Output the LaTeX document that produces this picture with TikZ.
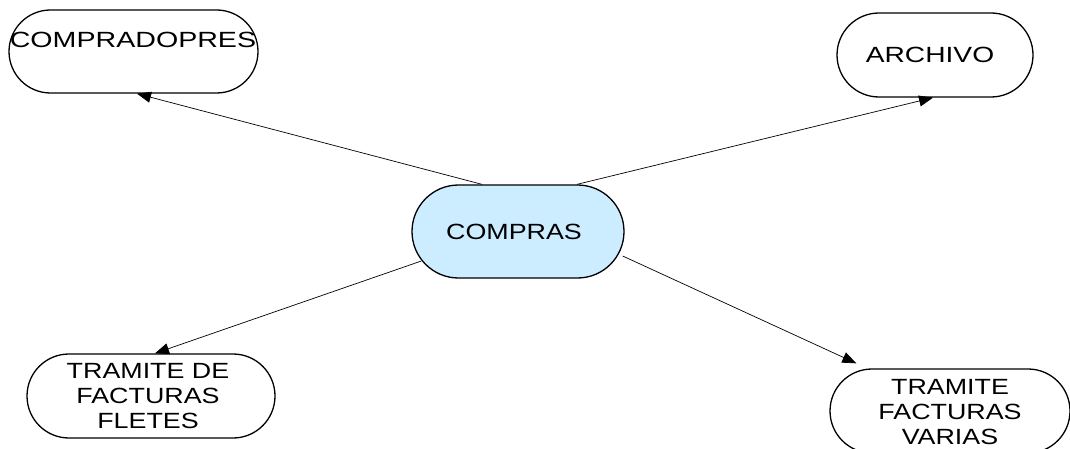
\documentclass[tikz,border=0pt]{standalone}
\usepackage{fontspec}
\newfontfamily\wf{Liberation Sans}[FakeStretch=1.22]
\newfontfamily\wfb{Liberation Sans}[FakeStretch=1.30]
\newfontfamily\wfc{Liberation Sans}[FakeStretch=1.28]
\usetikzlibrary{arrows.meta,calc}
\definecolor{lightblue}{RGB}{204,236,255}
\begin{document}
\begin{tikzpicture}[x=1pt,y=-1pt,
  pill/.style={draw=black,line width=1.3pt,rounded corners=#1,inner sep=0pt},
  lbl/.style={font=\wf\fontsize{22}{25}\selectfont,align=center,inner sep=0pt},
  conn/.style={line width=0.7pt,-{Triangle[length=14pt,width=11pt]}}]
\clip (0,0) rectangle (1070,449);
\fill[white] (0,0) rectangle (1070,449);
% nodes
\node[pill=41.5pt,minimum width=249pt,minimum height=83pt] (cp) at (133.5,51.5) {};
\node[lbl,font=\wfb\fontsize{22}{25}\selectfont] (cpt) at (133,40) {COMPRADOPRES};
\node[pill=42pt,minimum width=196pt,minimum height=84pt] (ar) at (935,55) {};
\node[lbl,font=\wfc\fontsize{22}{25}\selectfont] (art) at (930,55) {ARCHIVO};
\node[pill=46.5pt,minimum width=212pt,minimum height=93pt,fill=lightblue] (co) at (518,231.5) {};
\node[lbl] (cot) at (514,232) {COMPRAS};
\node[pill=42pt,minimum width=248pt,minimum height=84pt] (tf) at (151,396) {};
\node[lbl] (tft) at (148,396) {TRAMITE DE\\FACTURAS\\FLETES};
\node[pill=42pt,minimum width=240pt,minimum height=84pt] (tv) at (950,411) {};
\node[lbl] (tvt) at (950,412) {TRAMITE\\FACTURAS\\VARIAS};
% connectors
\draw[conn] ($(co.north)+(-36,0)$) -- ($(cp.south)+(3.5,0)$);
\draw[conn] ($(co.north)+(59,0)$) -- ($(ar.south)+(-2,0)$);
\draw[conn] ($(co.west)+(10,29.5)$) -- ($(tf.north)+(4,0)$);
\draw[conn] ($(co.east)+(-2,24.5)$) -- ($(tv.north west)+(27,-5)$);
\end{tikzpicture}
\end{document}
